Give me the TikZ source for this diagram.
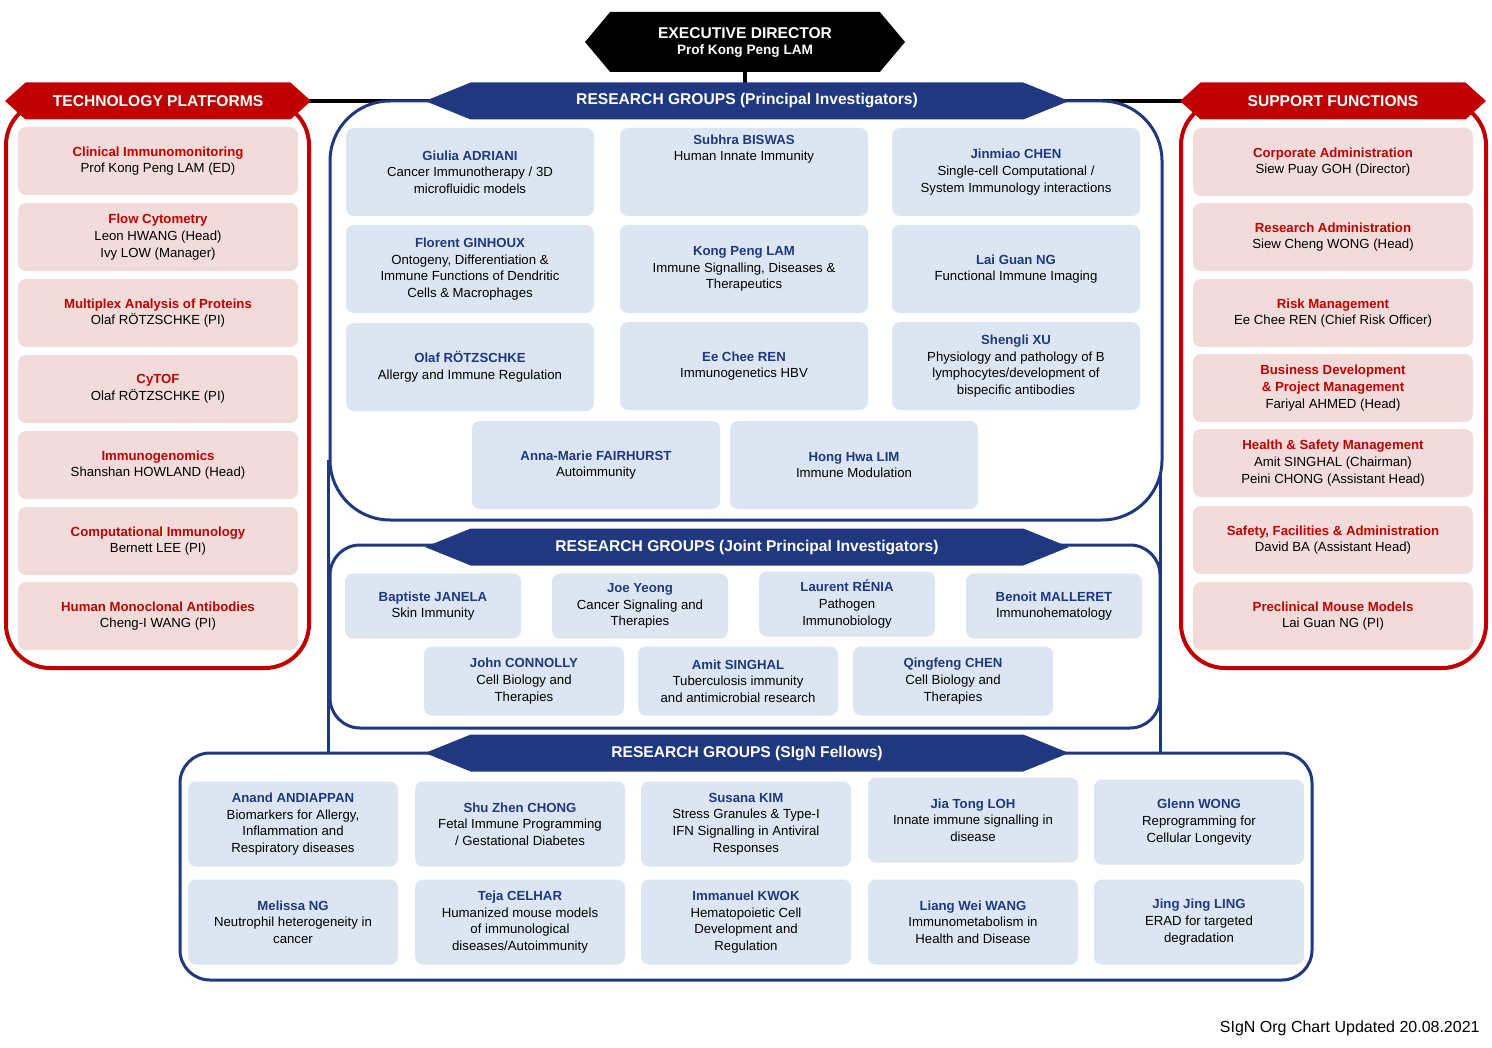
\documentclass[tikz,border=0pt]{standalone}
\usepackage{fontspec}
\setmainfont{Liberation Sans}
\usetikzlibrary{shapes.symbols}
\definecolor{rgblue}{RGB}{31,56,128}
\definecolor{rgred}{RGB}{192,0,0}
\definecolor{cellblue}{RGB}{220,230,242}
\definecolor{cellred}{RGB}{242,220,219}
\newcommand{\bnm}[1]{\textbf{\color{rgblue}#1}}
\newcommand{\rnm}[1]{\textbf{\color{rgred}#1}}
\tikzset{
  cell/.style={rounded corners=4pt, inner sep=1pt, align=center,
    font=\fontsize{6.6}{8.3}\selectfont},
  bcell/.style={cell, fill=cellblue},
  rcell/.style={cell, fill=cellred, minimum width=140pt, minimum height=34pt},
  banner/.style={shape=signal, signal to=west and east, text=white,
    font=\bfseries\fontsize{7.8}{9}\selectfont, inner sep=0pt, align=center},
  bluebanner/.style={banner, fill=rgblue, signal pointer angle=44,
    minimum width=322pt, minimum height=18.5pt},
  redbanner/.style={banner, fill=rgred, signal pointer angle=84,
    minimum width=153pt, minimum height=18.5pt},
}
\begin{document}
\begin{tikzpicture}[x=0.5pt,y=-0.5pt]
\useasboundingbox (0,0) rectangle (1492,1048);
% connecting lines
\draw[line width=2pt] (300,101) -- (1190,101);
\draw[line width=2pt] (745,60) -- (745,90);
\draw[rgblue, line width=1.5pt] (328,460) -- (328,753);
\draw[rgblue, line width=1.5pt] (1160,460) -- (1160,753);
% frames
\draw[rgred, line width=2pt, rounded corners=22pt] (6,101) rectangle (309,668);
\draw[rgred, line width=2pt, rounded corners=22pt] (1181,101) rectangle (1486,668);
\draw[rgblue, line width=1.5pt, fill=white, rounded corners=30pt] (330,101) rectangle (1162,520);
\draw[rgblue, line width=1.5pt, fill=white, rounded corners=15pt] (330,545) rectangle (1160,728);
\draw[rgblue, line width=1.5pt, fill=white, rounded corners=15pt] (180,753) rectangle (1312,980);
% banners
\node[banner, fill=black, signal pointer angle=100, minimum width=160pt, minimum height=30pt]
  (exec) at (745,42) {EXECUTIVE DIRECTOR\\[-1pt]{\fontsize{6.8}{8}\selectfont Prof Kong Peng LAM}};
\node[redbanner] (tech) at (158,101) {TECHNOLOGY PLATFORMS};
\node[redbanner] (supp) at (1333,101) {SUPPORT FUNCTIONS};
\node[bluebanner] (rgpi) at (747,101) {RESEARCH GROUPS (Principal Investigators)};
\node[bluebanner] (rgjpi) at (747,547) {RESEARCH GROUPS (Joint Principal Investigators)};
\node[bluebanner] (rgfel) at (747,753) {RESEARCH GROUPS (SIgN Fellows)};
% technology platforms
\node[rcell] (t1) at (158,161) {\rnm{Clinical Immunomonitoring}\\Prof Kong Peng LAM (ED)};
\node[rcell] (t2) at (158,237) {\rnm{Flow Cytometry}\\Leon HWANG (Head)\\Ivy LOW (Manager)};
\node[rcell] (t3) at (158,313) {\rnm{Multiplex Analysis of Proteins}\\Olaf RÖTZSCHKE (PI)};
\node[rcell] (t4) at (158,389) {\rnm{CyTOF}\\Olaf RÖTZSCHKE (PI)};
\node[rcell] (t5) at (158,465) {\rnm{Immunogenomics}\\Shanshan HOWLAND (Head)};
\node[rcell] (t6) at (158,541) {\rnm{Computational Immunology}\\Bernett LEE (PI)};
\node[rcell] (t7) at (158,616) {\rnm{Human Monoclonal Antibodies}\\Cheng-I WANG (PI)};
% support functions
\node[rcell] (s1) at (1333,162) {\rnm{Corporate Administration}\\Siew Puay GOH (Director)};
\node[rcell] (s2) at (1333,237) {\rnm{Research Administration}\\Siew Cheng WONG (Head)};
\node[rcell] (s3) at (1333,313) {\rnm{Risk Management}\\Ee Chee REN (Chief Risk Officer)};
\node[rcell] (s4) at (1333,388) {\rnm{Business Development}\\\rnm{\& Project Management}\\Fariyal AHMED (Head)};
\node[rcell] (s5) at (1333,463) {\rnm{Health \& Safety Management}\\Amit SINGHAL (Chairman)\\Peini CHONG (Assistant Head)};
\node[rcell] (s6) at (1333,540) {\rnm{Safety, Facilities \& Administration}\\David BA (Assistant Head)};
\node[rcell] (s7) at (1333,616) {\rnm{Preclinical Mouse Models}\\Lai Guan NG (PI)};
% principal investigators
\tikzset{pcell/.style={bcell, minimum width=124pt, minimum height=44pt}}
\node[pcell] (p1) at (470,172) {\bnm{Giulia ADRIANI}\\Cancer Immunotherapy / 3D\\microfluidic models};
\node[pcell] (p2) at (744,172) {\bnm{Subhra BISWAS}\\Human Innate Immunity\\[16pt]};
\node[pcell] (p3) at (1016,172) {\bnm{Jinmiao CHEN}\\Single-cell Computational /\\System Immunology interactions};
\node[pcell] (p4) at (470,269) {\bnm{Florent GINHOUX}\\Ontogeny, Differentiation \&\\Immune Functions of Dendritic\\Cells \& Macrophages};
\node[pcell] (p5) at (744,269) {\bnm{Kong Peng LAM}\\Immune Signalling, Diseases \&\\Therapeutics};
\node[pcell] (p6) at (1016,269) {\bnm{Lai Guan NG}\\Functional Immune Imaging};
\node[pcell] (p7) at (470,367) {\bnm{Olaf RÖTZSCHKE}\\Allergy and Immune Regulation};
\node[pcell] (p8) at (744,366) {\bnm{Ee Chee REN}\\Immunogenetics HBV};
\node[pcell] (p9) at (1016,366) {\bnm{Shengli XU}\\Physiology and pathology of B\\lymphocytes/development of\\bispecific antibodies};
\node[pcell] (p10) at (596,465) {\bnm{Anna-Marie FAIRHURST}\\Autoimmunity};
\node[pcell] (p11) at (854,465) {\bnm{Hong Hwa LIM}\\Immune Modulation};
% joint principal investigators
\tikzset{jcell/.style={bcell, minimum width=88pt, minimum height=32.5pt}}
\node[jcell] (j1) at (433,606) {\bnm{Baptiste JANELA}\\Skin Immunity};
\node[jcell] (j2) at (640,606) {\bnm{Joe Yeong}\\Cancer Signaling and\\Therapies};
\node[jcell] (j3) at (847,604) {\bnm{Laurent RÉNIA}\\Pathogen\\Immunobiology};
\node[jcell] (j4) at (1054,606) {\bnm{Benoit MALLERET}\\Immunohematology};
\tikzset{kcell/.style={bcell, minimum width=100pt, minimum height=34.5pt}}
\node[kcell] (j5) at (524,681) {\bnm{John CONNOLLY}\\Cell Biology and\\Therapies};
\node[kcell] (j6) at (738,681) {\bnm{Amit SINGHAL}\\Tuberculosis immunity\\and antimicrobial research};
\node[kcell] (j7) at (953,681) {\bnm{Qingfeng CHEN}\\Cell Biology and\\Therapies};
% fellows
\tikzset{fcell/.style={bcell, minimum width=105pt, minimum height=42.5pt}}
\node[fcell] (f1) at (293,824) {\bnm{Anand ANDIAPPAN}\\Biomarkers for Allergy,\\Inflammation and\\Respiratory diseases};
\node[fcell] (f2) at (520,824) {\bnm{Shu Zhen CHONG}\\Fetal Immune Programming\\/ Gestational Diabetes};
\node[fcell] (f3) at (746,824) {\bnm{Susana KIM}\\Stress Granules \& Type-I\\IFN Signalling in Antiviral\\Responses};
\node[fcell] (f4) at (973,820) {\bnm{Jia Tong LOH}\\Innate immune signalling in\\disease};
\node[fcell] (f5) at (1199,822) {\bnm{Glenn WONG}\\Reprogramming for\\Cellular Longevity};
\node[fcell] (f6) at (293,922) {\bnm{Melissa NG}\\Neutrophil heterogeneity in\\cancer};
\node[fcell] (f7) at (520,922) {\bnm{Teja CELHAR}\\Humanized mouse models\\of immunological\\diseases/Autoimmunity};
\node[fcell] (f8) at (746,922) {\bnm{Immanuel KWOK}\\Hematopoietic Cell\\Development and\\Regulation};
\node[fcell] (f9) at (973,922) {\bnm{Liang Wei WANG}\\Immunometabolism in\\Health and Disease};
\node[fcell] (f10) at (1199,922) {\bnm{Jing Jing LING}\\ERAD for targeted\\degradation};
% footer
\node[anchor=east, font=\fontsize{8}{9}\selectfont, inner sep=0pt] (foot) at (1480,1028) {SIgN Org Chart Updated 20.08.2021};
\end{tikzpicture}
\end{document}
